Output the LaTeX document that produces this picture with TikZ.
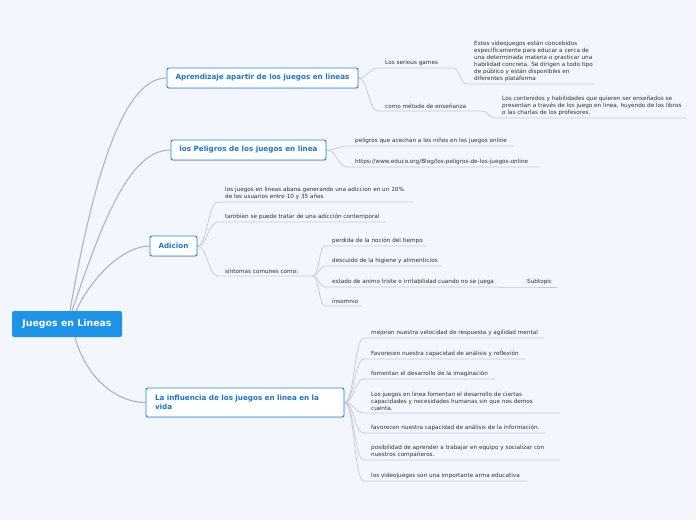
\documentclass[tikz,border=0pt]{standalone}
\usepackage{fontspec}
\setmainfont{DejaVu Sans}
\usetikzlibrary{shadows}
\definecolor{bgc}{HTML}{F3F6FD}
\definecolor{rootc}{HTML}{1D94E8}
\definecolor{bluetxt}{HTML}{1A73D9}
\definecolor{bluebrd}{HTML}{1C86E6}
\definecolor{trunkc}{HTML}{B3B3BA}
\definecolor{leafc}{HTML}{C6C9D4}
\definecolor{txtc}{HTML}{303030}
\pgfdeclarelayer{back}
\pgfdeclarelayer{mid}
\pgfsetlayers{back,mid,main}
\tikzset{
 rootbox/.style={fill=rootc, rounded corners=2pt, text=white, font=\fontsize{9.4}{11}\selectfont\bfseries, minimum width=110pt, minimum height=26pt, inner sep=0pt},
 branchbox/.style={draw=bluebrd, line width=0.9pt, fill=white, rounded corners=2pt, text=bluetxt, font=\fontsize{7.2}{9}\selectfont\bfseries, minimum height=20pt, inner sep=0pt, drop shadow={shadow xshift=0.5pt, shadow yshift=-0.8pt, opacity=0.2}},
 trunk/.style={draw=trunkc, line width=1.1pt},
 leafline/.style={draw=leafc, line width=0.7pt},
 leaftext/.style={anchor=south west, inner sep=0pt, align=left, text=txtc, font=\fontsize{5.7}{7}\selectfont},
}
% #1 from, #2 name, #3 x start, #4 x end, #5 y, #6 curve handle, #7 text
\newcommand\mmleaf[7]{%
 \coordinate (#2s) at (#3,#5);
 \coordinate (#2e) at (#4,#5);
 \node[leaftext] (#2) at (#3+7,#5-1.8) {#7};
 \begin{pgfonlayer}{mid}
 \draw[leafline] (#1) .. controls +(#6,0) and +(-#6,0) .. (#2s) -- (#2e);
 \end{pgfonlayer}
}
\begin{document}
\begin{tikzpicture}[x=1pt,y=-1pt]
\begin{pgfonlayer}{back}
\fill[bgc] (0,0) rectangle (696,520);
\end{pgfonlayer}
\useasboundingbox (0,0) rectangle (696,520);

\node[rootbox] (root) at (67,324) {Juegos en Lineas};

\node[branchbox, minimum width=191pt] (b1) at (262.5,78) {Aprendizaje apartir de los juegos en lineas};
\node[branchbox, minimum width=155pt] (b2) at (248.5,150) {los Peligros de los juegos en linea};
\node[branchbox, minimum width=47pt] (b3) at (173.5,246) {Adicion};
\node[branchbox, minimum height=29pt, text width=180pt, inner xsep=9pt, align=left] (b4) at (245,402.5) {La influencia de los juegos en linea en la\\vida};

\begin{pgfonlayer}{mid}
\draw[trunk] ([xshift=3pt]root.north) .. controls +(28,-161) and +(-37,0) .. (b1.west);
\draw[trunk] ([xshift=5pt]root.north) .. controls +(31,-91) and +(-41,0) .. (b2.west);
\draw[trunk] ([xshift=9pt]root.north) .. controls +(17,-36) and +(-25,0) .. (b3.west);
\draw[trunk] ([xshift=8pt]root.south) .. controls +(10,38) and +(-31,0) .. (b4.west);
\end{pgfonlayer}

% Branch 1
\mmleaf{b1.east}{c11}{378}{453}{68}{10}{Los serious games}
\mmleaf{c11e}{c111}{467}{595}{84}{7}{Estos videojuegos están concebidos\\específicamente para educar a cerca de\\una determinada materia o practicar una\\habilidad concreta. Se dirigen a todo tipo\\de público y están disponibles en\\diferentes plataforma}
\mmleaf{b1.east}{c12}{378}{482}{111}{10}{como método de enseñanza}
\mmleaf{c12e}{c121}{495}{686}{118}{6.5}{Los contenidos y habilidades que quieren ser enseñados se\\presentan a través de los juego en linea, huyendo de los libros\\o las charlas de los profesores.}

% Branch 2
\mmleaf{b2.east}{c21}{348}{513}{146}{11}{peligros que acechan a los niños en los juegos online}
\mmleaf{b2.east}{c22}{348}{540}{167}{11}{https://www.educo.org/Blog/los-peligros-de-los-juegos-online}

% Branch 3
\mmleaf{b3.east}{c31}{218}{413}{202}{10}{los juegos en lineas abana generando una adiccion en un 10\%\\de los usuarios entre 10 y 35 años}
\mmleaf{b3.east}{c32}{218}{385}{222}{10}{tambien se puede tratar de una adicción contemporal}
\mmleaf{b3.east}{c33}{218}{313}{276}{10}{síntomas comunes como:}
\mmleaf{c33e}{c331}{325}{427}{246}{6}{perdida de la noción del tiempo}
\mmleaf{c33e}{c332}{325}{442}{266}{6}{descuido de la higiene y alimenticios}
\mmleaf{c33e}{c333}{325}{500}{287}{6}{estado de animo triste o irritabilidad cuando no se juega}
\mmleaf{c333e}{c3331}{520}{557}{287}{6}{Subtopic}
\mmleaf{c33e}{c334}{325}{362}{306}{6}{insomnio}

% Branch 4
\mmleaf{b4.east}{c41}{364}{544}{338}{10}{mejoran nuestra velocidad de respuesta y agilidad mental}
\mmleaf{b4.east}{c42}{364}{525}{359}{10}{Favorecen nuestra capacidad de análisis y reflexión}
\mmleaf{b4.east}{c43}{364}{495}{379}{10}{fomentan el desarrollo de la imaginación}
\mmleaf{b4.east}{c44}{364}{560}{413}{10}{Los juegos en linea fomentan el desarrollo de ciertas\\capacidades y necesidades humanas sin que nos demos\\cuenta.}
\mmleaf{b4.east}{c45}{364}{546}{433}{10}{favorecen nuestra capacidad de análisis de la información.}
\mmleaf{b4.east}{c46}{364}{560}{460}{10}{posibilidad de aprender a trabajar en equipo y socializar con\\nuestros compañeros.}
\mmleaf{b4.east}{c47}{364}{527}{481}{10}{los videojuegos son una importante arma educativa}
\end{tikzpicture}
\end{document}
